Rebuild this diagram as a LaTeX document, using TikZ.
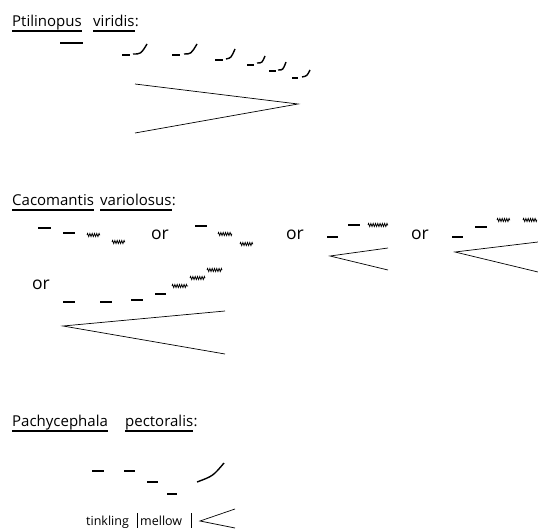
\documentclass[tikz,border=0pt]{standalone}
\usepackage{fontspec}
\setmainfont{Open Sans}
\usetikzlibrary{decorations.pathmorphing}
\begin{document}
\begin{tikzpicture}[x=1pt,y=-1pt,
  ttl/.style={font=\fontsize{15}{18}\selectfont, inner sep=0pt, anchor=base west},
  ortxt/.style={font=\fontsize{17.5}{20}\selectfont, inner sep=0pt},
  small/.style={font=\fontsize{12.5}{15}\selectfont, inner sep=0pt, anchor=base west},
  uline/.style={line width=1.1pt},
  note/.style={line width=1.7pt},
  thinl/.style={line width=0.7pt},
  wig/.style={line width=0.75pt, decorate, decoration={zigzag, segment length=2.3pt, amplitude=1.6pt}},
  slur/.style={line width=1.4pt}
]
\useasboundingbox (0,0) rectangle (538,530);

% ---------------- Ptilinopus viridis
\node[ttl] (p1) at (12,26) {Ptilinopus};
\node[ttl] (p2) at (93,26) {viridis};
\node[ttl] (p2c) at (p2.base east) {:};
\draw[uline] ([yshift=-5pt]p1.base west) -- ([yshift=-5pt]p1.base east);
\draw[uline] ([yshift=-5pt]p2.base west) -- ([yshift=-5pt]p2.base east);

\draw[note] (60,43) -- (83,43);
\draw[note] (122,55) -- (130,55);
\draw[slur] (133,54) .. controls (141,54) .. (147,44);
\draw[note] (172,55) -- (180,55);
\draw[slur] (184,54) .. controls (191,54) .. (197,44);
\draw[note] (215,60) -- (223,60);
\draw[slur] (226,59) .. controls (231,58) .. (235,49);
\draw[note] (247,65) -- (254,65);
\draw[slur] (257,63) .. controls (262,63) .. (265,56);
\draw[note] (269,71) -- (276,71);
\draw[slur] (278,70) .. controls (283,70) .. (286,62);
\draw[note] (292,78) -- (298,78);
\draw[slur] (302,77) .. controls (307,76) .. (310,70);

\draw[thinl] (135,84) -- (298,104) -- (135,133);

% ---------------- Cacomantis variolosus
\node[ttl] (c1) at (12,205) {Cacomantis};
\node[ttl] (c2) at (100,205) {variolosus};
\node[ttl] (c2c) at (c2.base east) {:};
\draw[uline] ([yshift=-5pt]c1.base west) -- ([yshift=-5pt]c1.base east);
\draw[uline] ([yshift=-5pt]c2.base west) -- ([yshift=-5pt]c2.base east);

% group 1
\draw[note] (38,228) -- (51,228);
\draw[note] (63,233) -- (75,233);
\draw[wig] (87,235) -- (100,235);
\draw[wig] (112,242) -- (125,242);
\node[ortxt] (or1) at (160,235) {or};
% group 2
\draw[note] (195,226) -- (207,226);
\draw[wig] (218,234) -- (232,234);
\draw[wig] (240,244) -- (253,244);
\node[ortxt] (or2) at (295,235) {or};
% group 3
\draw[note] (327,237) -- (338,237);
\draw[note] (348,225) -- (360,225);
\draw[wig] (368,225) -- (388,225);
\draw[thinl] (388,248) -- (330,256) -- (388,270);
\node[ortxt] (or3) at (420,235) {or};
% group 4
\draw[note] (452,237) -- (463,237);
\draw[note] (475,227) -- (487,227);
\draw[wig] (497,220) -- (510,220);
\draw[wig] (523,220) -- (537,220);
\draw[thinl] (538,242) -- (455,252) -- (538,272);
% row 2
\node[ortxt] (or4) at (41,285) {or};
\draw[note] (63,302) -- (75,302);
\draw[note] (100,302) -- (112,302);
\draw[note] (131,300) -- (143,300);
\draw[note] (155,294) -- (166,294);
\draw[wig] (172,286) -- (188,286);
\draw[wig] (190,278) -- (205,278);
\draw[wig] (207,270) -- (222,270);
\draw[thinl] (225,311) -- (63,326) -- (225,354);

% ---------------- Pachycephala pectoralis
\node[ttl] (h1) at (12,426) {Pachycephala};
\node[ttl] (h2) at (125,426) {pectoralis};
\node[ttl] (h2c) at (h2.base east) {:};
\draw[uline] ([yshift=-5pt]h1.base west) -- ([yshift=-5pt]h1.base east);
\draw[uline] ([yshift=-5pt]h2.base west) -- ([yshift=-5pt]h2.base east);

\draw[note] (92,471) -- (104,471);
\draw[note] (124,471) -- (135,471);
\draw[note] (147,482) -- (158,482);
\draw[note] (167,494) -- (177,494);
\draw[slur] (197,482) .. controls (213,476) .. (224,463);

\node[small] (tk) at (86,525) {tinkling};
\draw[thinl] (137,513) -- (137,528);
\node[small] (ml) at (140,525) {mellow};
\draw[thinl] (191,513) -- (191,528);
\draw[thinl] (235,509) -- (200,521) -- (235,528);
\end{tikzpicture}
\end{document}
